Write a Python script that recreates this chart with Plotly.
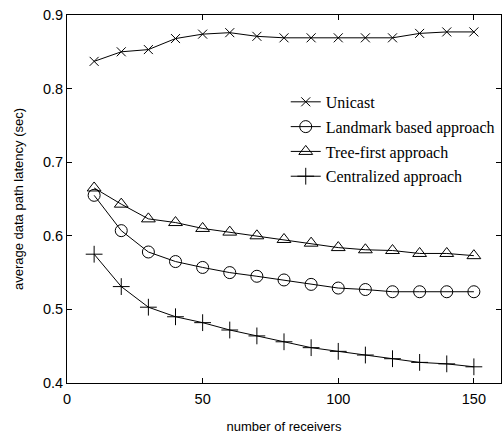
import plotly.graph_objects as go

receivers = [10, 20, 30, 40, 50, 60, 70, 80, 90, 100, 110, 120, 130, 140, 150]
unicast = [0.837, 0.850, 0.853, 0.868, 0.874, 0.876, 0.871, 0.869, 0.869, 0.869, 0.869, 0.869, 0.875, 0.877, 0.877]
landmark = [0.655, 0.607, 0.578, 0.565, 0.557, 0.550, 0.545, 0.540, 0.534, 0.529, 0.527, 0.524, 0.524, 0.524, 0.524]
tree_first = [0.665, 0.643, 0.623, 0.618, 0.610, 0.605, 0.600, 0.595, 0.590, 0.584, 0.581, 0.580, 0.576, 0.576, 0.573]
centralized = [0.575, 0.531, 0.503, 0.490, 0.482, 0.472, 0.464, 0.456, 0.448, 0.443, 0.438, 0.433, 0.428, 0.426, 0.422]

series = [
    ("Unicast", unicast, "x-thin-open", 9),
    ("Landmark based approach", landmark, "circle-open", 12),
    ("Tree-first approach", tree_first, "triangle-up-open", 12),
    ("Centralized approach", centralized, "cross-thin-open", 12),
]

fig = go.Figure()
for i, (name, ys, sym, sz) in enumerate(series):
    fig.add_trace(go.Scatter(
        x=receivers, y=ys, name=name, mode="lines+markers",
        line=dict(color="black", width=1),
        marker=dict(symbol=sym, size=sz, color="black", line=dict(color="black", width=1)),
        legendgroup=f"g{i}",
    ))

axis_common = dict(
    showline=True, linecolor="black", linewidth=1, mirror="allticks",
    ticks="inside", ticklen=5, tickcolor="black", showgrid=False, zeroline=False,
    automargin=False, ticklabeloverflow="allow",
    tickfont=dict(family="Liberation Sans, Arial", size=14.5, color="black"),
    title_font=dict(family="Liberation Sans, Arial", size=13, color="black"),
)

fig.update_layout(
    width=502, height=434,
    margin=dict(l=67, r=1, t=15, b=51),
    paper_bgcolor="white", plot_bgcolor="white",
    xaxis=dict(range=[0, 160], tickvals=[0, 50, 100, 150], title_text="number of receivers",
               title_standoff=16, ticklabelstandoff=3, **axis_common),
    yaxis=dict(range=[0.4, 0.9], tickvals=[0.4, 0.5, 0.6, 0.7, 0.8, 0.9], tickformat=".1f",
               title_text="average data path latency (sec)", title_standoff=16, **axis_common),
    legend=dict(x=0.504, y=0.81, xanchor="left", yanchor="top", bgcolor="rgba(0,0,0,0)",
                font=dict(family="Liberation Serif, Times New Roman", size=16, color="black"),
                tracegroupgap=1, itemwidth=30),
    showlegend=True,
)

# remove the browser's default 8px page margin so the figure fills the window
fig.write_html("out.html", config={"displayModeBar": False},
               post_script="document.body.style.margin='0';")
